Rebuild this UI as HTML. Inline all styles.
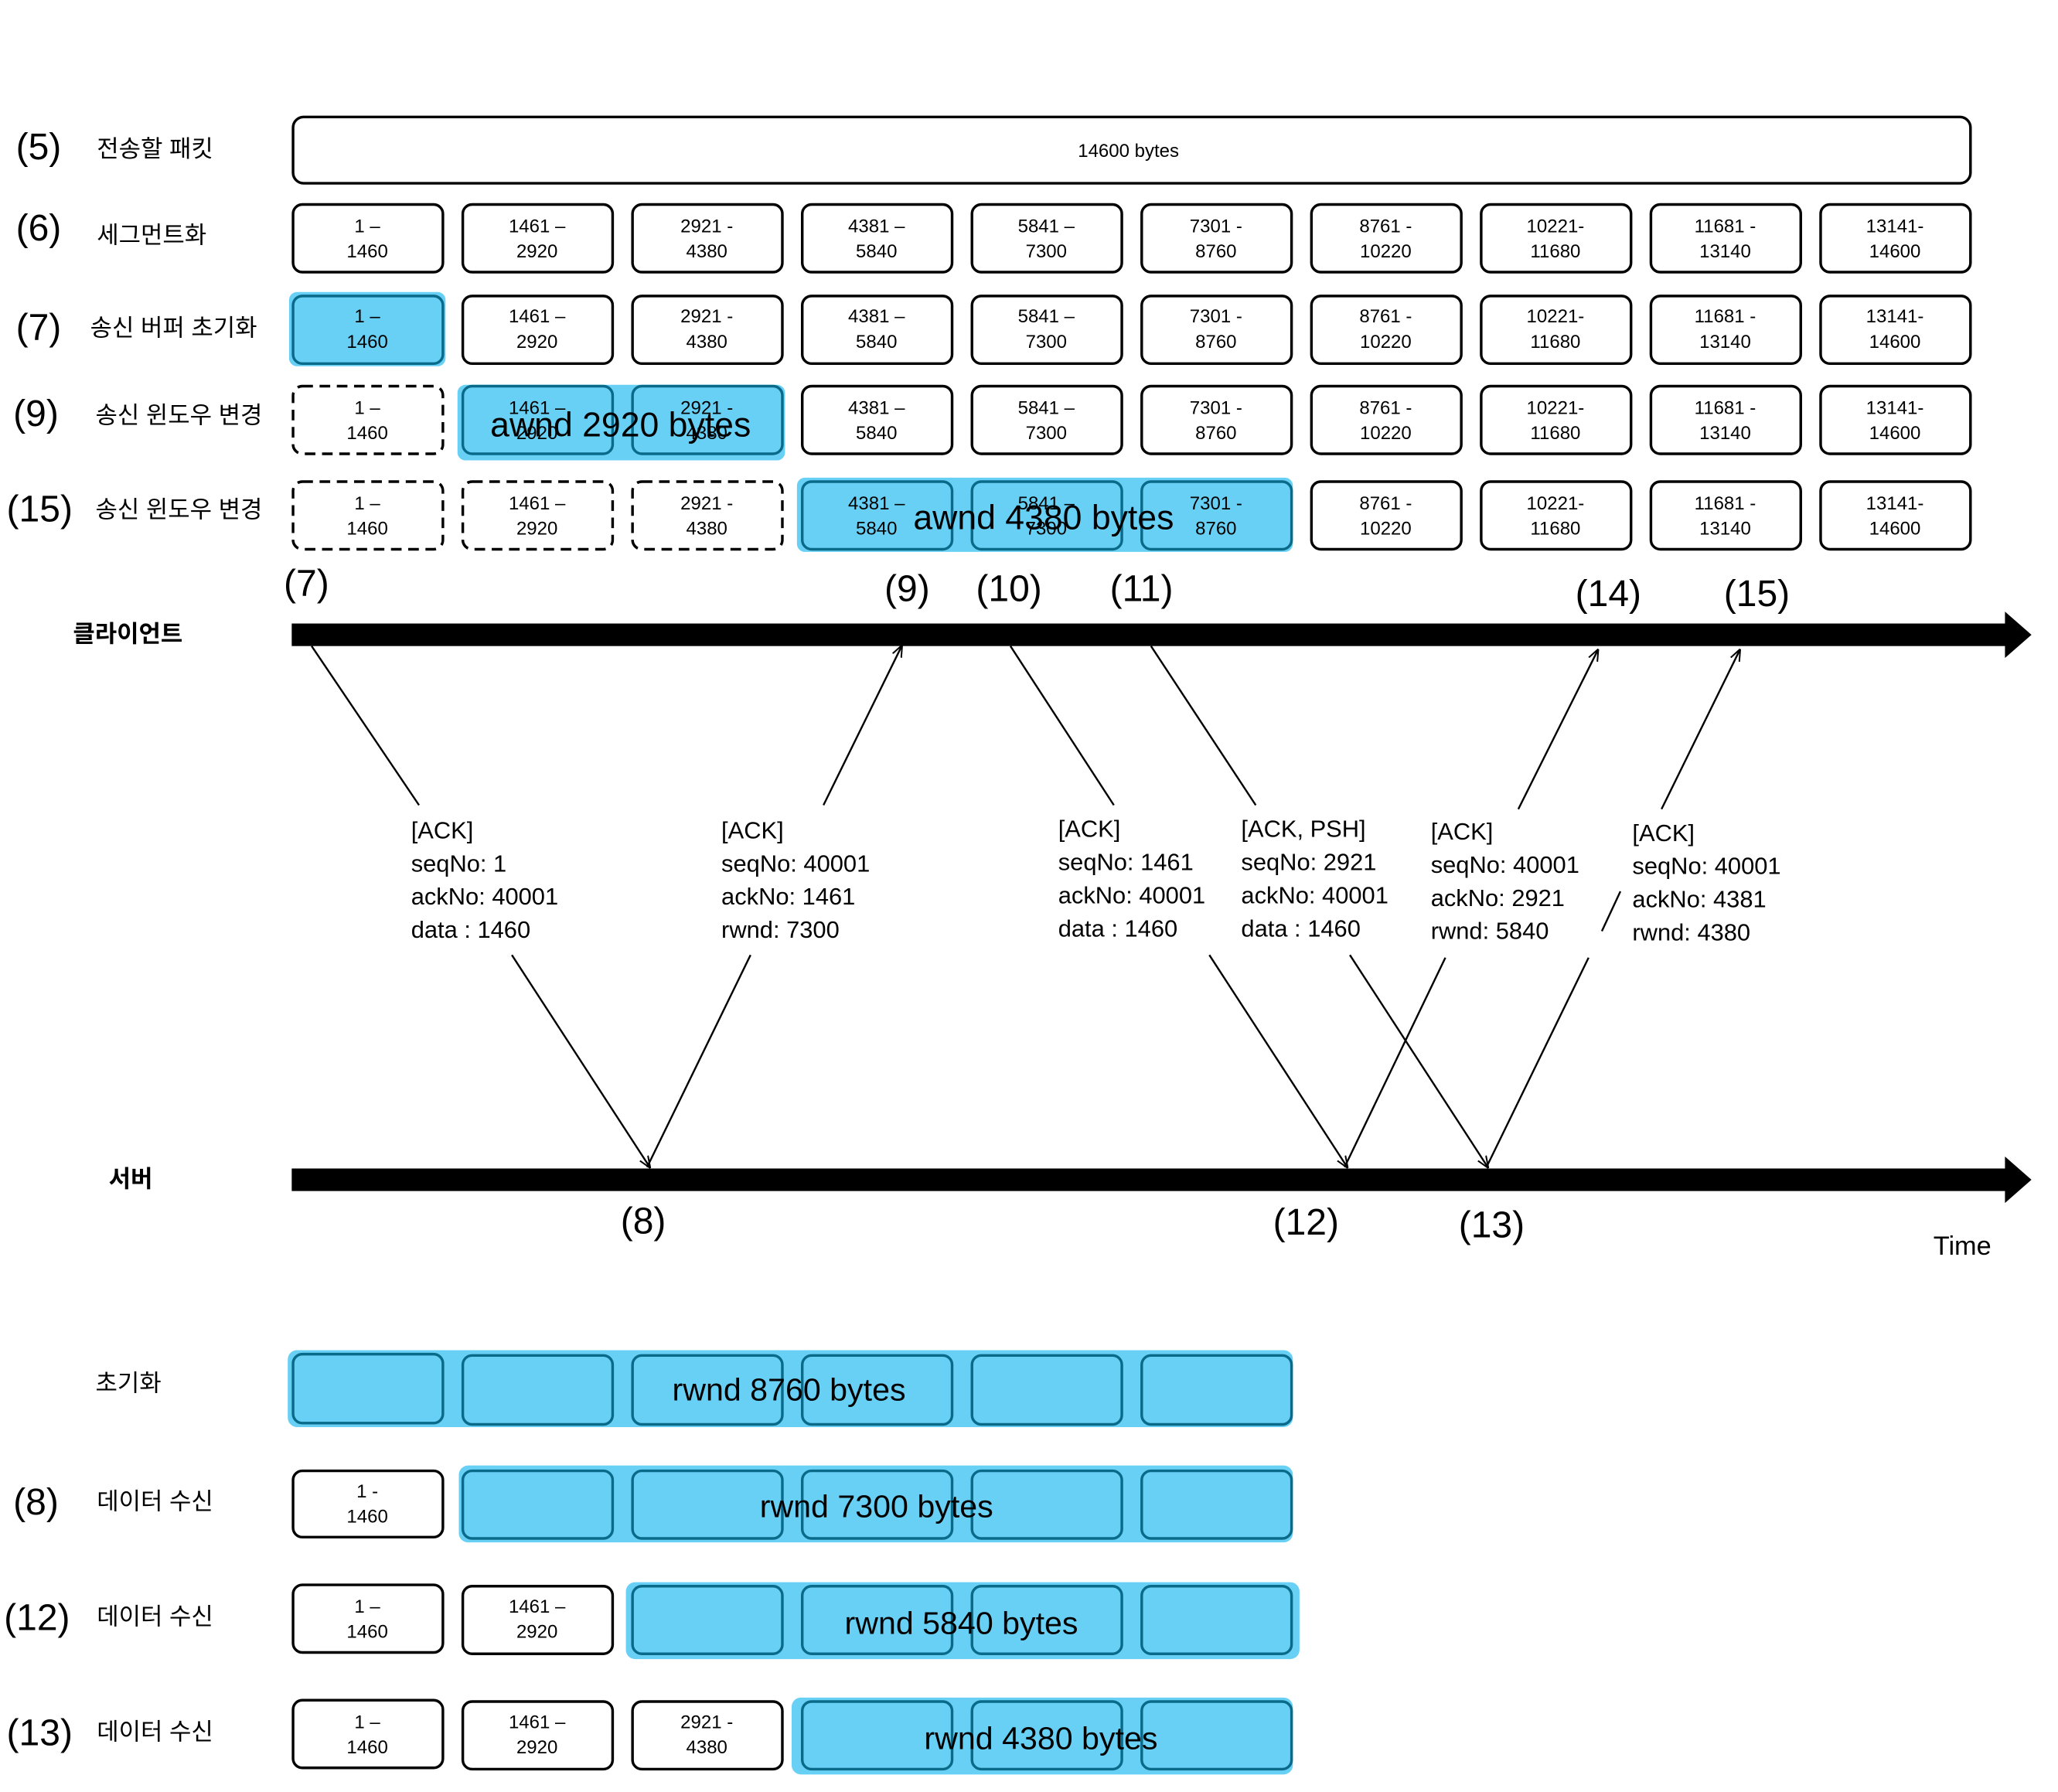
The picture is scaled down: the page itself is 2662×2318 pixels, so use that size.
<!DOCTYPE html>
<html><head><meta charset="utf-8"><style>
html,body{margin:0;padding:0;background:#fff;}
svg{display:block;}
text{font-family:"Liberation Sans","Noto Sans CJK KR",sans-serif;fill:#000;}
</style></head><body>
<svg width="2662" height="2318" viewBox="0 0 1552 1351" xmlns="http://www.w3.org/2000/svg">
<defs>
<marker id="ar" viewBox="0 0 10 10" refX="9" refY="5" markerWidth="9" markerHeight="9" orient="auto" markerUnits="userSpaceOnUse">
<path d="M0,1 L10,5 L0,9" fill="none" stroke="#000" stroke-width="1.3"/></marker>
</defs>
<g font-size="28">
<text x="12" y="120">(5)</text><text x="12" y="181">(6)</text><text x="12" y="256">(7)</text>
<text x="10" y="321">(9)</text><text x="5" y="393">(15)</text>
<text x="10" y="1142">(8)</text><text x="3" y="1229">(12)</text><text x="5" y="1316">(13)</text>
</g>
<g font-size="18">
<text x="73" y="118">전송할 패킷</text><text x="73" y="183">세그먼트화</text>
<text x="68" y="253">송신 버퍼 초기화</text><text x="72" y="319">송신 윈도우 변경</text>
<text x="72" y="390">송신 윈도우 변경</text>
<text x="72" y="1049">초기화</text><text x="73" y="1138">데이터 수신</text>
<text x="73" y="1225">데이터 수신</text><text x="73" y="1312">데이터 수신</text>
<text x="55" y="484" font-weight="bold">클라이언트</text><text x="82" y="895" font-weight="bold">서버</text>
</g>
<rect x="221" y="88" width="1265" height="50" rx="8" fill="#fff" stroke="#000" stroke-width="2"/>
<text x="851" y="118" font-size="14" text-anchor="middle">14600 bytes</text>
<!-- blue highlights -->
<rect x="345" y="290" width="247" height="57" rx="6" fill="#69d0f5"/>
<rect x="601" y="360" width="374" height="56" rx="6" fill="#69d0f5"/>
<rect x="218" y="220" width="118" height="56" rx="6" fill="#69d0f5"/>
<g font-size="14" text-anchor="middle" id="rows">
<!-- row6 -->
<g>
<rect x="221" y="154" width="113" height="51" rx="7" fill="#fff" stroke="#000" stroke-width="2"/><text x="277" y="175">1 –</text><text x="277" y="194">1460</text>
<rect x="349" y="154" width="113" height="51" rx="7" fill="#fff" stroke="#000" stroke-width="2"/><text x="405" y="175">1461 –</text><text x="405" y="194">2920</text>
<rect x="477" y="154" width="113" height="51" rx="7" fill="#fff" stroke="#000" stroke-width="2"/><text x="533" y="175">2921 -</text><text x="533" y="194">4380</text>
<rect x="605" y="154" width="113" height="51" rx="7" fill="#fff" stroke="#000" stroke-width="2"/><text x="661" y="175">4381 –</text><text x="661" y="194">5840</text>
<rect x="733" y="154" width="113" height="51" rx="7" fill="#fff" stroke="#000" stroke-width="2"/><text x="789" y="175">5841 –</text><text x="789" y="194">7300</text>
<rect x="861" y="154" width="113" height="51" rx="7" fill="#fff" stroke="#000" stroke-width="2"/><text x="917" y="175">7301 -</text><text x="917" y="194">8760</text>
<rect x="989" y="154" width="113" height="51" rx="7" fill="#fff" stroke="#000" stroke-width="2"/><text x="1045" y="175">8761 -</text><text x="1045" y="194">10220</text>
<rect x="1117" y="154" width="113" height="51" rx="7" fill="#fff" stroke="#000" stroke-width="2"/><text x="1173" y="175">10221-</text><text x="1173" y="194">11680</text>
<rect x="1245" y="154" width="113" height="51" rx="7" fill="#fff" stroke="#000" stroke-width="2"/><text x="1301" y="175">11681 -</text><text x="1301" y="194">13140</text>
<rect x="1373" y="154" width="113" height="51" rx="7" fill="#fff" stroke="#000" stroke-width="2"/><text x="1429" y="175">13141-</text><text x="1429" y="194">14600</text>
</g>
<!-- row7 -->
<g>
<rect x="221" y="223" width="113" height="51" rx="7" fill="#69d0f5" stroke="#0a6a8a" stroke-width="2"/><text x="277" y="243" fill="#1a7a9a">1 –</text><text x="277" y="262" fill="#1a7a9a">1460</text>
<rect x="349" y="223" width="113" height="51" rx="7" fill="#fff" stroke="#000" stroke-width="2"/><text x="405" y="243">1461 –</text><text x="405" y="262">2920</text>
<rect x="477" y="223" width="113" height="51" rx="7" fill="#fff" stroke="#000" stroke-width="2"/><text x="533" y="243">2921 -</text><text x="533" y="262">4380</text>
<rect x="605" y="223" width="113" height="51" rx="7" fill="#fff" stroke="#000" stroke-width="2"/><text x="661" y="243">4381 –</text><text x="661" y="262">5840</text>
<rect x="733" y="223" width="113" height="51" rx="7" fill="#fff" stroke="#000" stroke-width="2"/><text x="789" y="243">5841 –</text><text x="789" y="262">7300</text>
<rect x="861" y="223" width="113" height="51" rx="7" fill="#fff" stroke="#000" stroke-width="2"/><text x="917" y="243">7301 -</text><text x="917" y="262">8760</text>
<rect x="989" y="223" width="113" height="51" rx="7" fill="#fff" stroke="#000" stroke-width="2"/><text x="1045" y="243">8761 -</text><text x="1045" y="262">10220</text>
<rect x="1117" y="223" width="113" height="51" rx="7" fill="#fff" stroke="#000" stroke-width="2"/><text x="1173" y="243">10221-</text><text x="1173" y="262">11680</text>
<rect x="1245" y="223" width="113" height="51" rx="7" fill="#fff" stroke="#000" stroke-width="2"/><text x="1301" y="243">11681 -</text><text x="1301" y="262">13140</text>
<rect x="1373" y="223" width="113" height="51" rx="7" fill="#fff" stroke="#000" stroke-width="2"/><text x="1429" y="243">13141-</text><text x="1429" y="262">14600</text>
</g>
<!-- row9 -->
<g>
<rect x="221" y="291" width="113" height="51" rx="7" fill="#fff" stroke="#000" stroke-width="2" stroke-dasharray="8,5"/><text x="277" y="312">1 –</text><text x="277" y="331">1460</text>
<rect x="349" y="291" width="113" height="51" rx="7" fill="#69d0f5" stroke="#0a6a8a" stroke-width="2"/><text x="405" y="312" fill="#1a7a9a">1461 –</text><text x="405" y="331" fill="#1a7a9a">2920</text>
<rect x="477" y="291" width="113" height="51" rx="7" fill="#69d0f5" stroke="#0a6a8a" stroke-width="2"/><text x="533" y="312" fill="#1a7a9a">2921 -</text><text x="533" y="331" fill="#1a7a9a">4380</text>
<rect x="605" y="291" width="113" height="51" rx="7" fill="#fff" stroke="#000" stroke-width="2"/><text x="661" y="312">4381 –</text><text x="661" y="331">5840</text>
<rect x="733" y="291" width="113" height="51" rx="7" fill="#fff" stroke="#000" stroke-width="2"/><text x="789" y="312">5841 –</text><text x="789" y="331">7300</text>
<rect x="861" y="291" width="113" height="51" rx="7" fill="#fff" stroke="#000" stroke-width="2"/><text x="917" y="312">7301 -</text><text x="917" y="331">8760</text>
<rect x="989" y="291" width="113" height="51" rx="7" fill="#fff" stroke="#000" stroke-width="2"/><text x="1045" y="312">8761 -</text><text x="1045" y="331">10220</text>
<rect x="1117" y="291" width="113" height="51" rx="7" fill="#fff" stroke="#000" stroke-width="2"/><text x="1173" y="312">10221-</text><text x="1173" y="331">11680</text>
<rect x="1245" y="291" width="113" height="51" rx="7" fill="#fff" stroke="#000" stroke-width="2"/><text x="1301" y="312">11681 -</text><text x="1301" y="331">13140</text>
<rect x="1373" y="291" width="113" height="51" rx="7" fill="#fff" stroke="#000" stroke-width="2"/><text x="1429" y="312">13141-</text><text x="1429" y="331">14600</text>
</g>
<!-- row15 -->
<g>
<rect x="221" y="363" width="113" height="51" rx="7" fill="#fff" stroke="#000" stroke-width="2" stroke-dasharray="8,5"/><text x="277" y="384">1 –</text><text x="277" y="403">1460</text>
<rect x="349" y="363" width="113" height="51" rx="7" fill="#fff" stroke="#000" stroke-width="2" stroke-dasharray="8,5"/><text x="405" y="384">1461 –</text><text x="405" y="403">2920</text>
<rect x="477" y="363" width="113" height="51" rx="7" fill="#fff" stroke="#000" stroke-width="2" stroke-dasharray="8,5"/><text x="533" y="384">2921 -</text><text x="533" y="403">4380</text>
<rect x="605" y="363" width="113" height="51" rx="7" fill="#69d0f5" stroke="#0a6a8a" stroke-width="2"/><text x="661" y="384" fill="#1a7a9a">4381 –</text><text x="661" y="403" fill="#1a7a9a">5840</text>
<rect x="733" y="363" width="113" height="51" rx="7" fill="#69d0f5" stroke="#0a6a8a" stroke-width="2"/><text x="789" y="384" fill="#1a7a9a">5841 –</text><text x="789" y="403" fill="#1a7a9a">7300</text>
<rect x="861" y="363" width="113" height="51" rx="7" fill="#69d0f5" stroke="#0a6a8a" stroke-width="2"/><text x="917" y="384" fill="#1a7a9a">7301 -</text><text x="917" y="403" fill="#1a7a9a">8760</text>
<rect x="989" y="363" width="113" height="51" rx="7" fill="#fff" stroke="#000" stroke-width="2"/><text x="1045" y="384">8761 -</text><text x="1045" y="403">10220</text>
<rect x="1117" y="363" width="113" height="51" rx="7" fill="#fff" stroke="#000" stroke-width="2"/><text x="1173" y="384">10221-</text><text x="1173" y="403">11680</text>
<rect x="1245" y="363" width="113" height="51" rx="7" fill="#fff" stroke="#000" stroke-width="2"/><text x="1301" y="384">11681 -</text><text x="1301" y="403">13140</text>
<rect x="1373" y="363" width="113" height="51" rx="7" fill="#fff" stroke="#000" stroke-width="2"/><text x="1429" y="384">13141-</text><text x="1429" y="403">14600</text>
</g>
</g>
<text x="468" y="329" font-size="26" text-anchor="middle">awnd 2920 bytes</text>
<text x="787" y="399" font-size="26" text-anchor="middle">awnd 4380 bytes</text>
<!-- timelines -->
<rect x="220" y="470" width="1295" height="17" fill="#000"/>
<polygon points="1512,461 1532,478.5 1512,496" fill="#000"/>
<rect x="220" y="881" width="1295" height="17" fill="#000"/>
<polygon points="1512,872 1532,889.5 1512,907" fill="#000"/>
<g font-size="28">
<text x="214" y="449">(7)</text><text x="667" y="453">(9)</text><text x="736" y="453">(10)</text><text x="837" y="453">(11)</text>
<text x="1188" y="457">(14)</text><text x="1300" y="457">(15)</text>
<text x="468" y="930">(8)</text><text x="960" y="931">(12)</text><text x="1100" y="933">(13)</text>
</g>
<text x="1458" y="946" font-size="20">Time</text>
<!-- arrows -->
<g stroke="#000" stroke-width="1.4" fill="none">
<line x1="235" y1="487" x2="316" y2="607"/><line x1="386" y1="720" x2="490" y2="880" marker-end="url(#ar)"/>
<line x1="488" y1="880" x2="566" y2="720"/><line x1="621" y1="607" x2="680" y2="487" marker-end="url(#ar)"/>
<line x1="762" y1="487" x2="840" y2="607"/><line x1="912" y1="720" x2="1016" y2="880" marker-end="url(#ar)"/>
<line x1="868" y1="487" x2="947" y2="607"/><line x1="1018" y1="720" x2="1122" y2="880" marker-end="url(#ar)"/>
<line x1="1014" y1="880" x2="1090" y2="722"/><line x1="1145" y1="610" x2="1205" y2="490" marker-end="url(#ar)"/>
<line x1="1121" y1="880" x2="1198" y2="722"/><line x1="1208" y1="702" x2="1222" y2="672"/><line x1="1253" y1="610" x2="1312" y2="490" marker-end="url(#ar)"/>
</g>
<g font-size="18">
<text x="310" y="632">[ACK]</text><text x="310" y="657">seqNo: 1</text><text x="310" y="682">ackNo: 40001</text><text x="310" y="707">data : 1460</text>
<text x="544" y="632">[ACK]</text><text x="544" y="657">seqNo: 40001</text><text x="544" y="682">ackNo: 1461</text><text x="544" y="707">rwnd: 7300</text>
<text x="798" y="631">[ACK]</text><text x="798" y="656">seqNo: 1461</text><text x="798" y="681">ackNo: 40001</text><text x="798" y="706">data : 1460</text>
<text x="936" y="631">[ACK, PSH]</text><text x="936" y="656">seqNo: 2921</text><text x="936" y="681">ackNo: 40001</text><text x="936" y="706">data : 1460</text>
<text x="1079" y="633">[ACK]</text><text x="1079" y="658">seqNo: 40001</text><text x="1079" y="683">ackNo: 2921</text><text x="1079" y="708">rwnd: 5840</text>
<text x="1231" y="634">[ACK]</text><text x="1231" y="659">seqNo: 40001</text><text x="1231" y="684">ackNo: 4381</text><text x="1231" y="709">rwnd: 4380</text>
</g>
<!-- bottom -->
<rect x="217" y="1018" width="758" height="58" rx="7" fill="#69d0f5"/>
<rect x="346" y="1105" width="629" height="58" rx="7" fill="#69d0f5"/>
<rect x="472" y="1193" width="508" height="58" rx="7" fill="#69d0f5"/>
<rect x="597" y="1280" width="378" height="58" rx="7" fill="#69d0f5"/>
<g stroke-width="2">
<rect x="221" y="1021" width="113" height="52" rx="7" fill="#69d0f5" stroke="#0a6a8a"/>
<rect x="349" y="1022" width="113" height="52" rx="7" fill="#69d0f5" stroke="#0a6a8a"/>
<rect x="477" y="1022" width="113" height="52" rx="7" fill="#69d0f5" stroke="#0a6a8a"/>
<rect x="605" y="1022" width="113" height="52" rx="7" fill="#69d0f5" stroke="#0a6a8a"/>
<rect x="733" y="1022" width="113" height="52" rx="7" fill="#69d0f5" stroke="#0a6a8a"/>
<rect x="861" y="1022" width="113" height="52" rx="7" fill="#69d0f5" stroke="#0a6a8a"/>

<rect x="221" y="1109" width="113" height="50" rx="7" fill="#fff" stroke="#000"/>
<rect x="349" y="1109" width="113" height="51" rx="7" fill="#69d0f5" stroke="#0a6a8a"/>
<rect x="477" y="1109" width="113" height="51" rx="7" fill="#69d0f5" stroke="#0a6a8a"/>
<rect x="605" y="1109" width="113" height="51" rx="7" fill="#69d0f5" stroke="#0a6a8a"/>
<rect x="733" y="1109" width="113" height="51" rx="7" fill="#69d0f5" stroke="#0a6a8a"/>
<rect x="861" y="1109" width="113" height="51" rx="7" fill="#69d0f5" stroke="#0a6a8a"/>

<rect x="221" y="1195" width="113" height="51" rx="7" fill="#fff" stroke="#000"/>
<rect x="349" y="1196" width="113" height="51" rx="7" fill="#fff" stroke="#000"/>
<rect x="477" y="1196" width="113" height="51" rx="7" fill="#69d0f5" stroke="#0a6a8a"/>
<rect x="605" y="1196" width="113" height="51" rx="7" fill="#69d0f5" stroke="#0a6a8a"/>
<rect x="733" y="1196" width="113" height="51" rx="7" fill="#69d0f5" stroke="#0a6a8a"/>
<rect x="861" y="1196" width="113" height="51" rx="7" fill="#69d0f5" stroke="#0a6a8a"/>

<rect x="221" y="1282" width="113" height="51" rx="7" fill="#fff" stroke="#000"/>
<rect x="349" y="1283" width="113" height="51" rx="7" fill="#fff" stroke="#000"/>
<rect x="477" y="1283" width="113" height="51" rx="7" fill="#fff" stroke="#000"/>
<rect x="605" y="1283" width="113" height="51" rx="7" fill="#69d0f5" stroke="#0a6a8a"/>
<rect x="733" y="1283" width="113" height="51" rx="7" fill="#69d0f5" stroke="#0a6a8a"/>
<rect x="861" y="1283" width="113" height="51" rx="7" fill="#69d0f5" stroke="#0a6a8a"/>
</g>
<g font-size="14" text-anchor="middle">
<text x="277" y="1129">1 -</text><text x="277" y="1148">1460</text>
<text x="277" y="1216">1 –</text><text x="277" y="1235">1460</text>
<text x="405" y="1216">1461 –</text><text x="405" y="1235">2920</text>
<text x="277" y="1303">1 –</text><text x="277" y="1322">1460</text>
<text x="405" y="1303">1461 –</text><text x="405" y="1322">2920</text>
<text x="533" y="1303">2921 -</text><text x="533" y="1322">4380</text>
</g>
<g font-size="24" text-anchor="middle">
<text x="595" y="1056">rwnd 8760 bytes</text>
<text x="661" y="1144">rwnd 7300 bytes</text>
<text x="725" y="1232">rwnd 5840 bytes</text>
<text x="785" y="1319">rwnd 4380 bytes</text>
</g>
</svg>
</body></html>
